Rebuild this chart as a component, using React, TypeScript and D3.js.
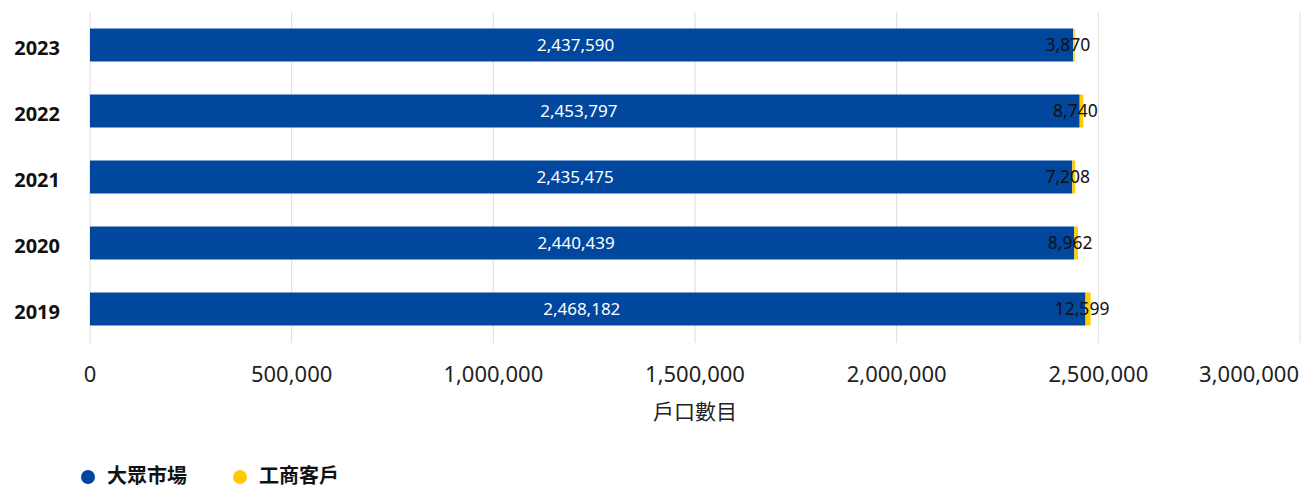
import React, { useEffect, useRef } from 'react';
import * as d3 from 'd3';

const years = ['2023', '2022', '2021', '2020', '2019'];
const massMarket = [2437590, 2453797, 2435475, 2440439, 2468182];
const commercial = [3870, 8740, 7208, 8962, 12599];
const xTicks = [0, 500000, 1000000, 1500000, 2000000, 2500000, 3000000];
const seriesNames = ['大眾市場', '工商客戶'];
const colors = ['#00479D', '#FFCC00'];

const WIDTH = 1311;
const HEIGHT = 489;
const FONT = '"Noto Sans", "Noto Sans CJK TC", sans-serif';

export default function App() {
  const svgRef = useRef<SVGSVGElement>(null);

  useEffect(() => {
    if (!svgRef.current) return;
    const svg = d3.select(svgRef.current);
    svg.selectAll('*').remove();

    const x = d3.scaleLinear().domain([0, 3000000]).range([90, 1300]);
    const y = d3
      .scaleBand()
      .domain(years)
      .range([12, 342])
      .paddingInner(0.5)
      .paddingOuter(0.25);

    const fmt = d3.format(',');
    const labelShift = -6;

    // Grid lines
    svg
      .selectAll('.grid')
      .data(xTicks)
      .enter()
      .append('line')
      .attr('x1', (d) => x(d))
      .attr('x2', (d) => x(d))
      .attr('y1', 12)
      .attr('y2', 343)
      .attr('stroke', '#dcdcdc')
      .attr('stroke-width', 1);

    // Tick labels (last one kept inside the frame)
    svg
      .selectAll('.xtick')
      .data(xTicks)
      .enter()
      .append('text')
      .attr('x', (d, i) => (i === xTicks.length - 1 ? x(d) - 1 : x(d)))
      .attr('y', 382)
      .attr('text-anchor', (d, i) => (i === xTicks.length - 1 ? 'end' : 'middle'))
      .attr('font-family', FONT)
      .attr('font-size', 22)
      .attr('fill', '#222')
      .text((d) => fmt(d));

    svg
      .append('text')
      .attr('x', x(1500000))
      .attr('y', 412)
      .attr('dy', '0.35em')
      .attr('text-anchor', 'middle')
      .attr('font-family', FONT)
      .attr('font-size', 21)
      .attr('fill', '#222')
      .text('戶口數目');

    // Year labels
    svg
      .selectAll('.ylab')
      .data(years)
      .enter()
      .append('text')
      .attr('x', 60)
      .attr('y', (d) => (y(d) ?? 0) + y.bandwidth() / 2 + 2.5)
      .attr('dy', '0.35em')
      .attr('text-anchor', 'end')
      .attr('font-family', FONT)
      .attr('font-weight', 'bold')
      .attr('font-size', 20)
      .attr('fill', '#111')
      .text((d) => d);

    const rows = years.map((yr, i) => ({ yr, a: massMarket[i], b: commercial[i] }));

    // Blue segments
    svg
      .selectAll('.barA')
      .data(rows)
      .enter()
      .append('rect')
      .attr('x', x(0))
      .attr('y', (d) => y(d.yr) ?? 0)
      .attr('width', (d) => x(d.a) - x(0))
      .attr('height', y.bandwidth())
      .attr('fill', colors[0]);

    // Yellow segments
    svg
      .selectAll('.barB')
      .data(rows)
      .enter()
      .append('rect')
      .attr('x', (d) => x(d.a))
      .attr('y', (d) => y(d.yr) ?? 0)
      .attr('width', (d) => x(d.a + d.b) - x(d.a))
      .attr('height', y.bandwidth())
      .attr('fill', colors[1]);

    // Value labels
    svg
      .selectAll('.labA')
      .data(rows)
      .enter()
      .append('text')
      .attr('x', (d) => (x(0) + x(d.a)) / 2 + labelShift)
      .attr('y', (d) => (y(d.yr) ?? 0) + y.bandwidth() / 2)
      .attr('dy', '0.35em')
      .attr('text-anchor', 'middle')
      .attr('font-family', FONT)
      .attr('font-size', 17)
      .attr('fill', '#fff')
      .text((d) => fmt(d.a));

    svg
      .selectAll('.labB')
      .data(rows)
      .enter()
      .append('text')
      .attr('x', (d) => (x(d.a) + x(d.a + d.b)) / 2 + labelShift)
      .attr('y', (d) => (y(d.yr) ?? 0) + y.bandwidth() / 2)
      .attr('dy', '0.35em')
      .attr('text-anchor', 'middle')
      .attr('font-family', FONT)
      .attr('font-size', 17.5)
      .attr('fill', '#111')
      .text((d) => fmt(d.b));

    // Legend
    const legendX = [88, 240];
    seriesNames.forEach((name, i) => {
      svg
        .append('circle')
        .attr('cx', legendX[i])
        .attr('cy', 477)
        .attr('r', 7)
        .attr('fill', colors[i]);
      svg
        .append('text')
        .attr('x', legendX[i] + 19)
        .attr('y', 476)
        .attr('dy', '0.35em')
        .attr('font-family', FONT)
        .attr('font-weight', 'bold')
        .attr('font-size', 20)
        .attr('fill', '#111')
        .text(name);
    });
  }, []);

  return (
    <svg
      ref={svgRef}
      width={WIDTH}
      height={HEIGHT}
      style={{ position: 'absolute', left: 0, top: 0 }}
    />
  );
}
